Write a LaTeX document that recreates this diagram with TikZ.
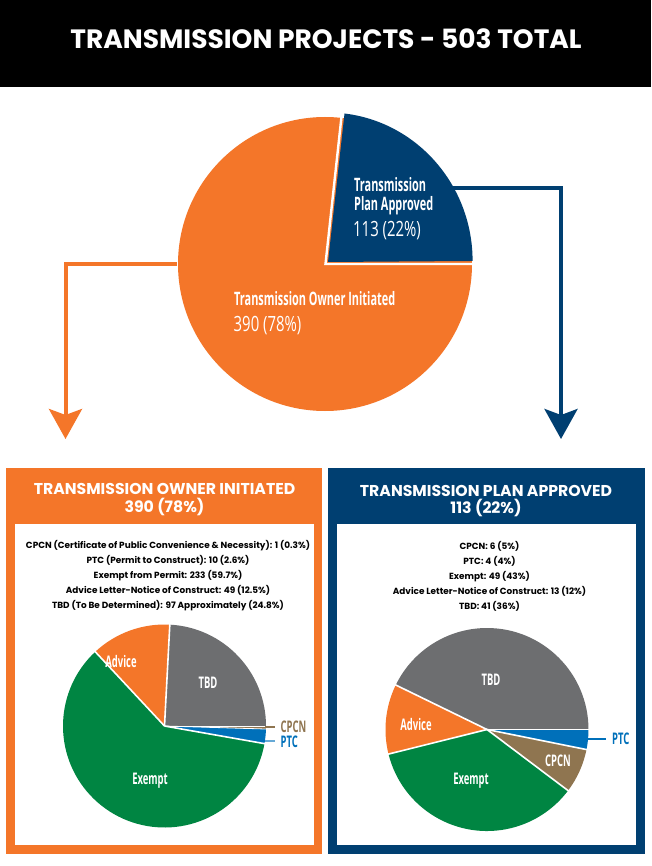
\documentclass[tikz,border=0pt]{standalone}
\usepackage{fontspec}
\usepackage{graphicx}
\setmainfont{Poppins}
\newfontfamily\condfont[FakeStretch=0.59]{Open Sans}
\newfontfamily\numfont[FakeStretch=0.71]{Open Sans}
\usetikzlibrary{arrows.meta}
\definecolor{cOrange}{HTML}{F47629}
\definecolor{cNavy}{HTML}{003F71}
\definecolor{cGreen}{HTML}{008542}
\definecolor{cGray}{HTML}{6D6E70}
\definecolor{cBrown}{HTML}{8F7550}
\definecolor{cBlue}{HTML}{0070BA}
\tikzset{
  slice/.style={draw=white,line width=1.6pt,line join=miter},
  title/.style={text=white,font=\fontsize{26.5}{28}\selectfont\bfseries,inner sep=0pt},
  boxtitle/.style={text=white,font=\fontsize{15.7}{17.5}\selectfont\bfseries,align=center,inner sep=0pt},
  listing/.style={text=black,font=\fontsize{8.9}{15}\selectfont\bfseries,align=center,inner sep=0pt},
  biglabel/.style={text=white,font=\condfont\fontsize{18.5}{18.5}\selectfont\bfseries,align=left,inner sep=0pt,anchor=west},
  bignum/.style={text=white,font=\numfont\fontsize{21}{22}\selectfont,inner sep=0pt,anchor=west},
  pielabel/.style={text=white,font=\condfont\fontsize{16}{16}\selectfont\bfseries,inner sep=0pt},
  sidelabel/.style={font=\condfont\fontsize{16}{16}\selectfont\bfseries,inner sep=0pt,anchor=west},
  flow/.style={line width=4pt,-{Stealth[length=30pt,width=33pt,inset=6pt]}},
  leader/.style={line width=1.4pt},
}
\newcommand{\pieslice}[6]{% fill, cx, cy, r, start, end
  \fill[#1] (#2,#3) -- ++(#5:#4 and -#4) arc[start angle=-#5,end angle=-#6,radius=#4] -- cycle;
}
\begin{document}
\begin{tikzpicture}[x=1pt,y=-1pt]
\useasboundingbox (0,0) rectangle (651,866);
\fill[white] (0,0) rectangle (651,866);
% header
\fill[black] (0,0) rectangle (651,87);
\node[title] (hdr) at (326,39) {TRANSMISSION PROJECTS - 503 TOTAL};
% main pie
\fill[cOrange] (325,264) circle[radius=147];
\fill[cNavy] (328,262) -- (344.5,113.5) arc[start angle=83.3,end angle=0,x radius=145,y radius=-148.5] -- cycle;
\draw[white,line width=2.4pt] (342,112) -- (325.5,264) -- (473,264);
\coordinate (oStart) at (177,264.5);
\coordinate (oCorner) at (65.5,264.5);
\coordinate (oEnd) at (65.5,439);
\coordinate (nStart) at (452,188);
\coordinate (nCorner) at (561,188);
\coordinate (nEnd) at (561,439);
\draw[flow,cOrange] (oStart) -- (oCorner) -- (oEnd);
\draw[flow,cNavy] (nStart) -- (nCorner) -- (nEnd);
\node[biglabel] (tpa) at (354,196) {Transmission\\Plan Approved};
\node[bignum] (tpan) at (353,230.5) {113 (22\%)};
\node[biglabel] (toi) at (234,299) {Transmission Owner Initiated};
\node[bignum] (toin) at (233.5,326) {390 (78\%)};
% boxes
\fill[cOrange] (6,468) rectangle (322,854);
\fill[white] (15,524) rectangle (314,845);
\fill[cNavy] (328,468) rectangle (645,854);
\fill[white] (337,524) rectangle (636,845);
\node[boxtitle] (lt) at (164.5,499.5) {TRANSMISSION OWNER INITIATED\\390 (78\%)};
\node[boxtitle] (rt) at (486,501) {TRANSMISSION PLAN APPROVED\\113 (22\%)};
\node[listing] (ll) at (168,576) {CPCN (Certificate of Public Convenience \& Necessity): 1 (0.3\%)\\PTC (Permit to Construct): 10 (2.6\%)\\Exempt from Permit: 233 (59.7\%)\\Advice Letter-Notice of Construct: 49 (12.5\%)\\TBD (To Be Determined): 97 Approximately (24.8\%)};
\node[listing] (rl) at (489.5,576) {CPCN: 6 (5\%)\\PTC: 4 (4\%)\\Exempt: 49 (43\%)\\Advice Letter-Notice of Construct: 13 (12\%)\\TBD: 41 (36\%)};
% left pie
\def\lx{164.5}\def\ly{726}\def\lr{101.5}
\pieslice{cGray}{\lx}{\ly}{\lr}{0}{87}
\pieslice{cOrange}{\lx}{\ly}{\lr}{87}{133}
\pieslice{cGreen}{\lx}{\ly}{\lr}{133}{350}
\pieslice{cBlue}{\lx}{\ly}{\lr}{350}{358.3}
\pieslice{cBrown}{\lx}{\ly}{\lr}{358.3}{360}
\foreach \a in {87,133,350} \draw[white,line width=1.6pt] (\lx,\ly) -- ++(\a:\lr+1 and -\lr-1);
\draw[white,line width=.8pt] (\lx,\ly) -- ++(358.3:\lr+1 and -\lr-1);
\draw[white,line width=.8pt] (\lx,\ly) -- ++(0:\lr+1 and -\lr-1);
\coordinate (lCpcnA) at (265,727);
\coordinate (lCpcnB) at (275,727);
\coordinate (lPtcA) at (265,741);
\coordinate (lPtcB) at (275,741);
\node[pielabel] (la) at (121,661) {Advice};
\node[pielabel] (lb) at (208,683) {TBD};
\node[pielabel] (lc) at (150,781) {Exempt};
\node[sidelabel,text=cBrown] (ld) at (280.5,726.5) {CPCN};
\node[sidelabel,text=cBlue] (le) at (280.5,741.5) {PTC};
\draw[leader,cBrown] (lCpcnA) -- (lCpcnB);
\draw[leader,cBlue!60] (lPtcA) -- (lPtcB);
% right pie
\def\rx{487}\def\ry{729.5}\def\rr{101.5}
\pieslice{cGray}{\rx}{\ry}{\rr}{0}{154}
\pieslice{cOrange}{\rx}{\ry}{\rr}{154}{194}
\pieslice{cGreen}{\rx}{\ry}{\rr}{194}{323}
\pieslice{cBrown}{\rx}{\ry}{\rr}{323}{348.6}
\pieslice{cBlue}{\rx}{\ry}{\rr}{348.6}{360}
\foreach \a in {0,154,194,323,348.6} \draw[white,line width=1.6pt] (\rx,\ry) -- ++(\a:\rr+1 and -\rr-1);
\coordinate (rPtcA) at (587,739);
\coordinate (rPtcB) at (606,739);
\draw[leader,cBlue] (rPtcA) -- (rPtcB);
\node[pielabel] (ra) at (416,724) {Advice};
\node[pielabel] (rb) at (491,680) {TBD};
\node[pielabel] (rc) at (471,781) {Exempt};
\node[pielabel] (rd) at (558,761) {CPCN};
\node[sidelabel,text=cBlue] (re) at (612,738.5) {PTC};
\end{tikzpicture}
\end{document}
